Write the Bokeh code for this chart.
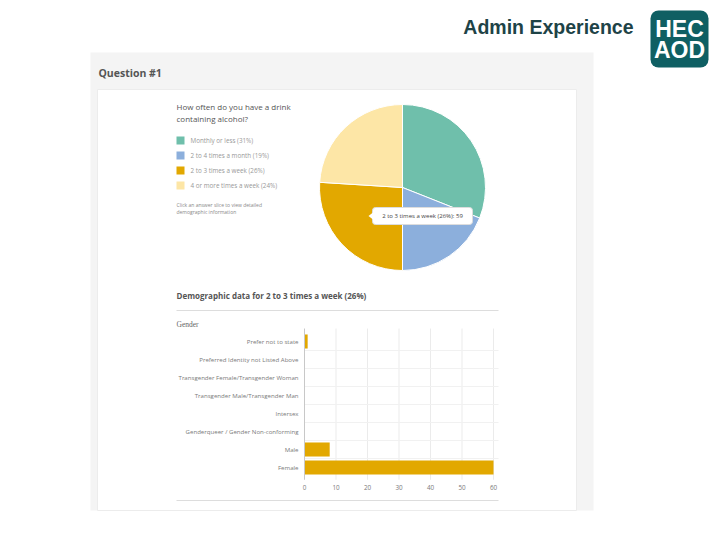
import math
from bokeh.plotting import figure
from bokeh.models import Range1d
from bokeh.core.properties import value
from bokeh.embed import file_html
from bokeh.resources import INLINE

# ---- data ----
answers = ["Monthly or less", "2 to 4 times a month", "2 to 3 times a week", "4 or more times a week"]
answer_pct = [31, 19, 26, 24]
answer_colors = ["#6fbfab", "#8cafdc", "#e2a800", "#fde6a6"]
selected_answer = 2
selected_count = 59

genders = ["Prefer not to state", "Preferred Identity not Listed Above",
           "Transgender Female/Transgender Woman", "Transgender Male/Transgender Man",
           "Intersex", "Genderqueer / Gender Non-conforming", "Male", "Female"]
gender_counts = [1, 0, 0, 0, 0, 0, 8, 60]
x_ticks = [0, 10, 20, 30, 40, 50, 60]

W, H = 720, 540
UI = value("Open Sans")


def Y(py):
    """Convert a distance from the top of the page to the plot's y."""
    return H - py


p = figure(width=W, height=H, x_range=Range1d(0, W), y_range=Range1d(0, H),
           output_backend="svg", toolbar_location=None, min_border=0)
p.axis.visible = False
p.grid.visible = False
p.outline_line_color = None
p.background_fill_color = "white"
p.border_fill_color = "white"

# ---- slide header ----
p.text(x=[633], y=[Y(26)], text=["Admin Experience"], text_font=value("Liberation Sans"),
       text_font_style="bold", text_font_size="19.5px", text_color="#1e4347",
       text_align="right", text_baseline="middle")
p.quad(left=[650], right=[708], top=[Y(10)], bottom=[Y(67)], fill_color="#0f5f63",
       line_color=None, border_radius=8)
p.text(x=[679, 679], y=[Y(28), Y(49)], text=["HEC", "AOD"], text_font=value("Liberation Sans"),
       text_font_style="bold", text_font_size="23px", text_color="white",
       text_align="center", text_baseline="middle")

# ---- app panel ----
p.quad(left=[90], right=[593], top=[Y(52)], bottom=[Y(510)], fill_color="#f4f4f4", line_color=None)
p.quad(left=[97], right=[576], top=[Y(89)], bottom=[Y(510)], fill_color="white", line_color="#ececec",
       line_width=1)
p.text(x=[98], y=[Y(72)], text=["Question #1"], text_font=UI, text_font_style="bold",
       text_font_size="10.5px", text_color="#555555", text_baseline="middle")

# question and legend
p.text(x=[176, 176], y=[Y(106), Y(118)], text=["How often do you have a drink", "containing alcohol?"],
       text_font=UI, text_font_size="8px", text_color="#555555", text_baseline="middle")
leg_y = [Y(140 + 15 * i) for i in range(len(answers))]
p.rect(x=[180] * len(answers), y=leg_y, width=8, height=8, fill_color=answer_colors, line_color=None)
p.text(x=[190] * len(answers), y=leg_y,
       text=[f"{a} ({v}%)" for a, v in zip(answers, answer_pct)],
       text_font=UI, text_font_size="6.3px", text_color="#999999", text_baseline="middle")
p.text(x=[176, 176], y=[Y(204), Y(211)],
       text=["Click an answer slice to view detailed", "demographic information"],
       text_font=UI, text_font_size="5px", text_color="#888888", text_baseline="middle")

# ---- pie ----
cx, cy, r = 402, Y(187), 83
total = sum(answer_pct)
starts, ends = [], []
acc = 0
for v in answer_pct:
    starts.append(math.pi / 2 - 2 * math.pi * acc / total)
    acc += v
    ends.append(math.pi / 2 - 2 * math.pi * acc / total)
p.wedge(x=[cx] * len(answers), y=[cy] * len(answers), radius=r, radius_units="screen",
        start_angle=starts, end_angle=ends, direction="clock",
        fill_color=answer_colors, line_color="white", line_width=1)

# tooltip for the selected slice
p.quad(left=[372], right=[472], top=[Y(207)], bottom=[Y(224)], fill_color="white",
       line_color="#dddddd", line_width=1, border_radius=3)
p.patch(x=[372.5, 368, 372.5], y=[Y(212), Y(215.5), Y(219)], fill_color="white", line_color=None)
p.text(x=[422], y=[Y(215.5)],
       text=[f"{answers[selected_answer]} ({answer_pct[selected_answer]}%): {selected_count}"],
       text_font=UI, text_font_size="6px", text_color="#444444", text_align="center",
       text_baseline="middle")

# ---- demographic section ----
p.text(x=[176], y=[Y(295)],
       text=[f"Demographic data for {answers[selected_answer]} ({answer_pct[selected_answer]}%)"],
       text_font=UI, text_font_style="bold", text_font_size="8px", text_color="#555555",
       text_baseline="middle")
p.segment(x0=[176, 176], x1=[498, 498], y0=[Y(310), Y(500)], y1=[Y(310), Y(500)],
          line_color="#dddddd", line_width=1)
p.text(x=[176], y=[Y(324)], text=["Gender"], text_font=value("Liberation Serif"),
       text_font_size="7.5px", text_color="#666666", text_baseline="middle")

# bar chart scales: value 0 at x=304, 60 at x=493; row i centred at 341 + 18*i from top
k = 60 / (493 - 304)
p.extra_x_ranges = {"gx": Range1d(-304 * k, (W - 304) * k)}
row0, step = 341, 18
p.extra_y_ranges = {"gy": Range1d((H - row0) / step, (H - row0) / step - H / step)}

n = len(genders)
rows = list(range(n))
grid_top, grid_bot = -0.72, n - 0.32
x_right = x_ticks[-1] + 5 * k
# light grid: vertical at ticks, horizontal between rows
p.segment(x0=x_ticks[1:], x1=x_ticks[1:], y0=[grid_top] * (len(x_ticks) - 1),
          y1=[grid_bot] * (len(x_ticks) - 1),
          line_color="#ebebeb", line_width=1, x_range_name="gx", y_range_name="gy")
sep = [i + 0.5 for i in range(n - 1)]
p.segment(x0=[0] * len(sep), x1=[x_right] * len(sep), y0=sep, y1=sep,
          line_color="#f1f1f1", line_width=1, x_range_name="gx", y_range_name="gy")
p.hbar(y=rows, left=0, right=gender_counts, height=0.78, fill_color="#e2a800", line_color=None,
       x_range_name="gx", y_range_name="gy")
p.segment(x0=[0], x1=[0], y0=[grid_top], y1=[grid_bot], line_color="#c8c8c8", line_width=1,
          x_range_name="gx", y_range_name="gy")
p.text(x=[0] * n, y=rows, text=genders, x_offset=-6, text_font=UI, text_font_size="6.1px",
       text_color="#7a7a7a", text_align="right", text_baseline="middle",
       x_range_name="gx", y_range_name="gy")
p.text(x=x_ticks, y=[grid_bot] * len(x_ticks), text=[str(t) for t in x_ticks], y_offset=8,
       text_font=UI, text_font_size="6.3px", text_color="#7a7a7a", text_align="center",
       text_baseline="middle", x_range_name="gx", y_range_name="gy")

open("out.html", "w").write(file_html(p, INLINE))
